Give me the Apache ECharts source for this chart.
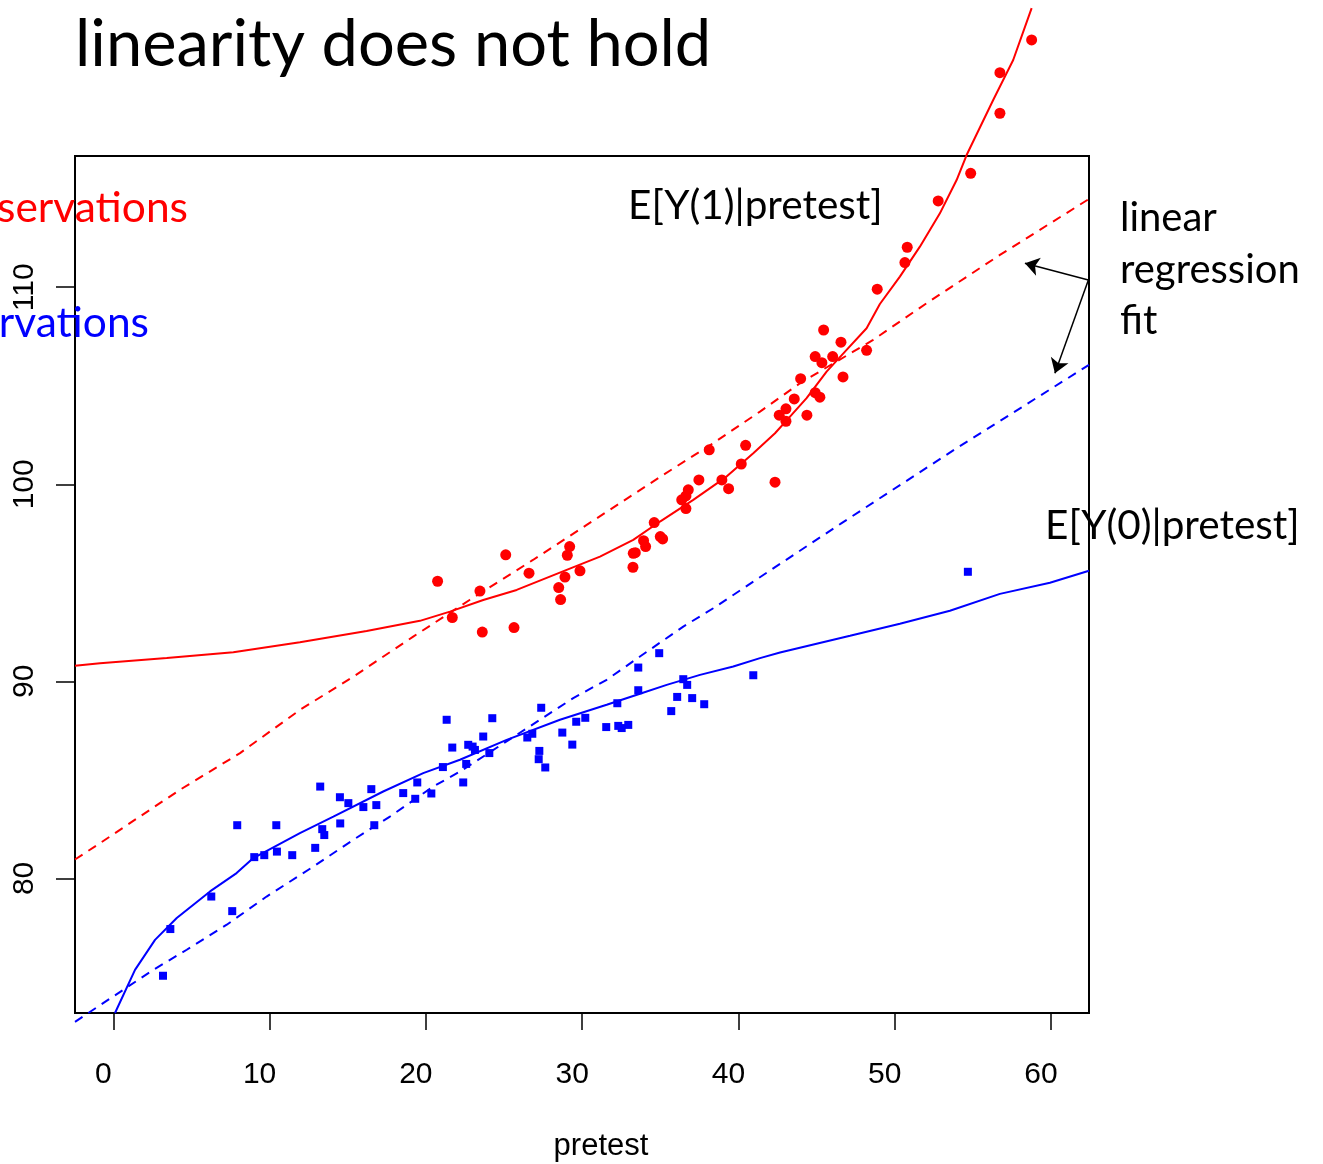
<!DOCTYPE html>
<html>
<head>
<meta charset="utf-8">
<script src="https://cdn.jsdelivr.net/npm/echarts@6/dist/echarts.min.js"></script>
<style>
html,body{margin:0;padding:0;background:#fff;}
#chart{width:1323px;height:1164px;}
</style>
</head>
<body>
<div id="chart"></div>
<script>
// ---- data ----
const xTicks = [0, 10, 20, 30, 40, 50, 60];
const yTicks = [80, 90, 100, 110];

// treated observations (red dots)  [pretest, outcome]
const treatedPoints = [
  [20.75,95.08],[21.69,93.24],[23.46,94.58],[23.61,92.50],[25.11,96.42],[25.64,92.73],
  [26.60,95.49],[28.50,94.76],[28.62,94.15],[28.90,95.29],[29.05,96.40],[29.20,96.84],
  [29.86,95.61],[33.25,95.79],[33.27,96.50],[33.40,96.53],[33.93,97.14],[34.06,96.84],
  [34.61,98.06],[35.00,97.35],[35.15,97.23],[36.37,99.21],[36.64,99.41],[36.79,99.72],
  [36.64,98.77],[37.47,100.22],[38.13,101.75],[38.94,100.22],[39.37,99.78],[40.18,101.03],
  [40.46,101.98],[42.34,100.11],[42.61,103.51],[43.04,103.83],[43.04,103.20],[43.57,104.33],
  [43.98,105.36],[44.38,103.51],[44.91,104.65],[45.21,104.42],[44.91,106.48],[45.34,106.17],
  [46.03,106.48],[45.45,107.83],[46.56,107.21],[46.69,105.45],[48.20,106.80],[48.88,109.90],
  [50.65,111.25],[50.80,112.03],[52.78,114.38],[54.86,115.78],[56.73,118.83],[56.73,120.89],
  [58.76,122.55]
];

// control observations (blue squares)
const controlPoints = [
  [3.18,75.06],[3.65,77.43],[6.27,79.08],[7.61,78.34],[7.93,82.70],[9.02,81.08],[9.66,81.18],
  [10.43,82.70],[10.47,81.36],[11.45,81.18],[12.92,81.55],[13.24,84.66],[13.37,82.50],[13.50,82.20],
  [14.50,84.12],[14.52,82.79],[15.04,83.82],[16.00,83.62],[16.51,84.53],[16.70,82.70],[16.83,83.72],
  [18.55,84.33],[19.32,84.04],[19.45,84.87],[20.35,84.31],[21.09,85.65],[21.33,88.05],[21.69,86.64],
  [22.39,84.87],[22.58,85.81],[22.71,86.78],[22.99,86.69],[23.14,86.52],[23.67,87.20],[24.06,86.36],
  [24.25,88.13],[26.49,87.15],[26.81,87.34],[27.22,86.05],[27.26,86.47],[27.38,88.66],[27.64,85.63],
  [28.73,87.40],[29.37,86.79],[29.62,87.95],[30.20,88.15],[31.54,87.68],[32.25,88.89],[32.31,87.74],
  [32.53,87.63],[32.95,87.79],[33.59,90.70],[33.59,89.55],[34.93,91.43],[35.70,88.49],[36.08,89.21],
  [36.47,90.11],[36.72,89.82],[37.04,89.15],[37.81,88.84],[40.95,90.31],[54.68,95.56]
];

// E[Y(1)|pretest] (red solid)
const treatedCurve = [
  [-2.45,90.79],[-0.85,90.92],[3.42,91.18],[7.68,91.48],[11.94,91.99],[16.21,92.56],[19.62,93.07],
  [21.54,93.54],[23.67,94.13],[25.81,94.64],[29.01,95.66],[31.14,96.33],[33.27,97.18],[34.98,98.11],
  [37.11,99.21],[39.24,100.39],[40.95,101.58],[42.34,102.59],[43.40,103.52],[44.36,104.37],
  [45.64,105.72],[46.92,106.82],[48.20,107.92],[49.05,109.15],[50.33,110.54],[51.61,112.06],
  [52.89,113.75],[53.96,115.44],[54.60,116.71],[56.30,119.50],[57.58,121.53],[58.76,124.16]
];

// linear regression fit, treated (red dashed)
const treatedLinear = [
  [-2.45,80.96],[-0.85,81.79],[4.27,84.50],[8.11,86.36],[11.94,88.55],[15.36,90.24],[19.19,92.27],
  [22.82,94.14],[26.85,96.16],[30.29,97.94],[35.19,100.48],[38.39,102.09],[41.38,103.69],
  [43.94,105.13],[48.62,107.33],[52.04,109.19],[56.73,111.64],[62.43,114.48]
];

// E[Y(0)|pretest] (blue solid)
const controlCurve = [
  [0.11,73.17],[1.39,75.36],[2.67,76.88],[4.06,77.99],[6.19,79.34],[7.89,80.27],[8.96,81.03],
  [11.94,82.30],[14.08,83.14],[17.27,84.41],[19.83,85.34],[22.18,86.02],[25.17,87.03],[28.58,88.05],
  [31.57,88.81],[33.70,89.37],[35.41,89.82],[37.54,90.33],[39.67,90.75],[41.38,91.18],[42.66,91.46],
  [47.14,92.31],[50.33,92.92],[53.53,93.58],[56.73,94.44],[59.93,95.00],[62.43,95.61]
];

// linear regression fit, control (blue dashed)
const controlLinear = [
  [-2.45,72.72],[2.56,75.36],[4.70,76.38],[7.26,77.65],[9.81,79.08],[12.80,80.60],[15.36,81.96],
  [17.70,83.14],[20.47,84.66],[22.18,85.42],[27.30,88.05],[29.43,89.15],[31.57,90.08],[33.70,91.26],
  [36.47,92.78],[38.39,93.71],[40.95,95.06],[46.60,98.03],[53.96,101.83],[62.43,106.06]
];

// annotation arrows (data coordinates): from the label to each dashed fit
const arrowCoords = [
  [[62.39,110.37],[58.33,111.22]],
  [[62.39,110.37],[60.25,105.64]]
];

const RED = '#ff0000', BLUE = '#0000ff';
const TXT = 'Lato, "Open Sans", sans-serif';
const AX = '"Liberation Sans", Arial, sans-serif';

const chart = echarts.init(document.getElementById('chart'), null, {renderer:'canvas'});

function txt(text, x, y, size, color, align) {
  return {
    type:'text', x:x, y:y, silent:true, z:100,
    style:{text:text, font: size + 'px ' + TXT, fill:color,
      align:align||'left', verticalAlign:'middle',
      textAlign:align||'left', textVerticalAlign:'middle'}
  };
}

const option = {
  animation:false,
  backgroundColor:'#fff',
  grid:{left:75, right:234, top:156, bottom:151, containLabel:false, outerBoundsMode:'none',
    show:true, borderColor:'#000', borderWidth:2, backgroundColor:'transparent'},
  xAxis:{
    type:'value', min:-2.45, max:62.43,
    name:'pretest', nameLocation:'middle', nameGap:118,
    nameTextStyle:{fontSize:31, color:'#000', fontFamily:AX, padding:[0,0,0,38]},
    splitLine:{show:false}, axisLine:{show:false, onZero:false},
    axisTick:{show:true, customValues:xTicks, length:17, lineStyle:{color:'#000', width:1.5}},
    axisLabel:{customValues:xTicks, margin:47, fontSize:30, color:'#000', fontFamily:AX, padding:[0,20,0,0]}
  },
  yAxis:{
    type:'value', min:73.17, max:116.66,
    splitLine:{show:false}, axisLine:{show:false, onZero:false},
    axisTick:{show:true, customValues:yTicks, length:19, lineStyle:{color:'#000', width:1.5}},
    axisLabel:{customValues:yTicks, rotate:90, margin:35, fontSize:30, color:'#000', fontFamily:AX}
  },
  series:[
    {type:'scatter', data:treatedPoints, symbol:'circle', symbolSize:11, clip:false, itemStyle:{color:RED, opacity:1}, z:3},
    {type:'scatter', data:controlPoints, symbol:'rect', symbolSize:8, clip:false, itemStyle:{color:BLUE, opacity:1}, z:3},
    {type:'line', data:treatedCurve, showSymbol:false, clip:false, lineStyle:{color:RED, width:2}, z:4},
    {type:'line', data:treatedLinear, showSymbol:false, clip:false, lineStyle:{color:RED, width:2, type:[9,7]}, z:4},
    {type:'line', data:controlCurve, showSymbol:false, clip:false, lineStyle:{color:BLUE, width:2}, z:4},
    {type:'line', data:controlLinear, showSymbol:false, clip:false, lineStyle:{color:BLUE, width:2, type:[9,7]}, z:4},
    {type:'lines', coordinateSystem:'cartesian2d', clip:false, symbol:['none','arrow'], symbolSize:14,
      lineStyle:{color:'#000', width:1.5, opacity:1}, data:arrowCoords.map(c => ({coords:c})), z:5}
  ],
  graphic:[
    txt('linearity does not hold', 75, 45, 65, '#000'),
    txt('E[Y(1)|pretest]', 628, 206, 40.5, '#000'),
    txt('E[Y(0)|pretest]', 1045, 526, 40.5, '#000'),
    txt('linear', 1120, 218, 40, '#000'),
    txt('regression', 1120, 270, 40, '#000'),
    txt('fit', 1120, 321, 40, '#000'),
    txt('servations', 188, 208, 42.5, RED, 'right'),
    txt('rvations', 149, 323, 42.5, BLUE, 'right')
  ]
};
chart.setOption(option);
</script>
</body>
</html>
